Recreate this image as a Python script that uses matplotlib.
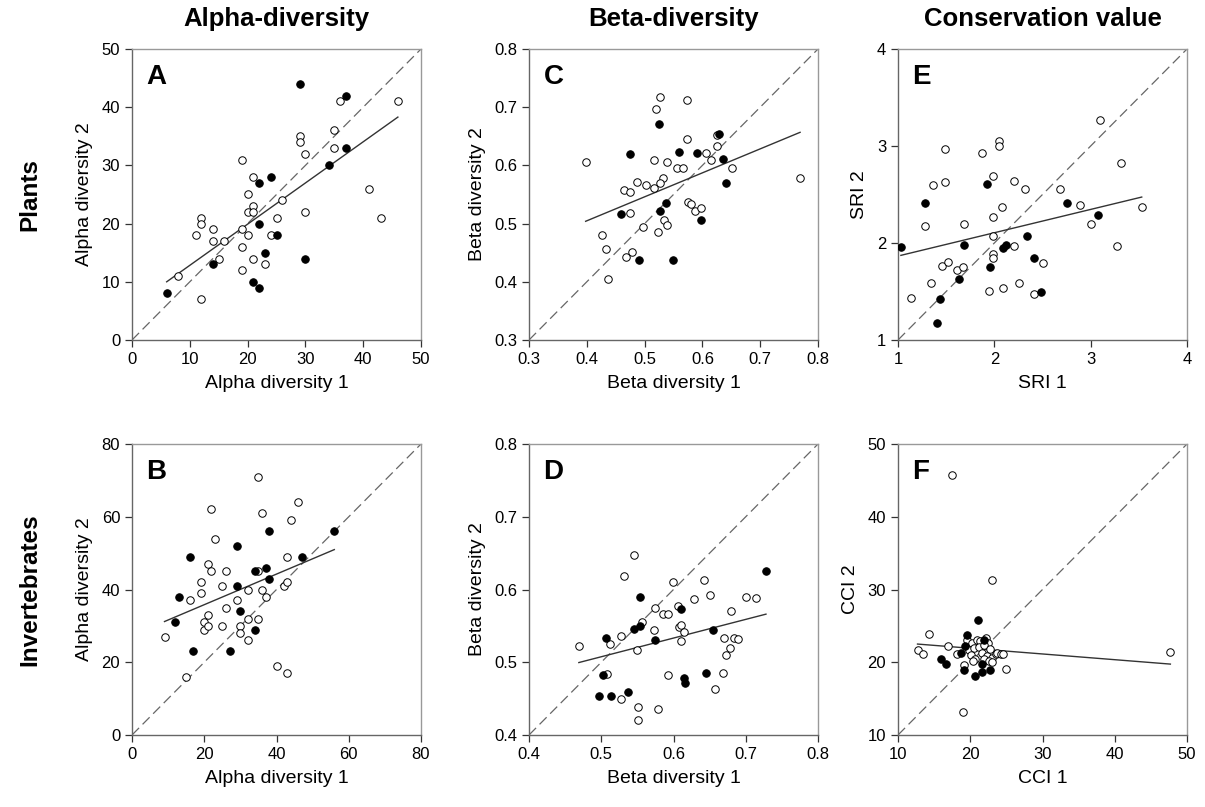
""" Alpha/beta diversity and conservation value: method 1 vs method 2 """

import numpy as np
import matplotlib
matplotlib.use('Agg')
import matplotlib.pyplot as plt

plt.rcParams['font.family'] = ['Liberation Sans', 'DejaVu Sans']

# ---- Panel A: plants alpha diversity
a_open_x = [46, 36, 35, 35, 29, 29, 30, 19, 21, 41, 20, 26, 21, 20, 21, 30, 43, 25, 12,
            12, 19, 14, 11, 20, 24, 14, 16, 19, 15, 21, 23, 19, 8, 12]
a_open_y = [41, 41, 36, 33, 35, 34, 32, 31, 28, 26, 25, 24, 23, 22, 22, 22, 21, 21, 21,
            20, 19, 19, 18, 18, 18, 17, 17, 16, 14, 14, 13, 12, 11, 7]
a_fill_x = [6, 29, 37, 37, 34, 22, 24, 22, 25, 23, 30, 14, 21, 22]
a_fill_y = [8, 44, 42, 33, 30, 27, 28, 20, 18, 15, 14, 13, 10, 9]
a_fit = (0.7075, 5.755)

# ---- Panel B: invertebrates alpha diversity
b_open_x = [9, 15, 16, 19, 19, 20, 20, 21, 21, 21, 22, 22, 23, 25, 25, 26, 26, 29, 30,
            30, 32, 32, 32, 35, 35, 35, 36, 36, 37, 40, 42, 43, 43, 43, 44, 46]
b_open_y = [27, 16, 37, 42, 39, 31, 29, 33, 30, 47, 45, 62, 54, 41, 30, 45, 35, 37, 30,
            28, 40, 32, 26, 45, 32, 71, 40, 61, 38, 19, 41, 42, 49, 17, 59, 64]
b_fill_x = [12, 13, 16, 17, 27, 29, 29, 30, 34, 34, 37, 38, 38, 47, 56]
b_fill_y = [31, 38, 49, 23, 23, 52, 41, 34, 45, 29, 46, 56, 43, 49, 56]
b_fit = (0.4207, 27.41)

# ---- Panel C: plants beta diversity
c_open_x = [0.398, 0.527, 0.520, 0.574, 0.574, 0.625, 0.625, 0.607, 0.615, 0.651,
            0.517, 0.539, 0.556, 0.566, 0.532, 0.526, 0.516, 0.503, 0.487, 0.465,
            0.474, 0.474, 0.575, 0.581, 0.588, 0.597, 0.533, 0.539, 0.497, 0.524,
            0.426, 0.434, 0.479, 0.467, 0.436, 0.769]
c_open_y = [0.605, 0.718, 0.697, 0.713, 0.646, 0.653, 0.634, 0.622, 0.610, 0.596,
            0.609, 0.605, 0.595, 0.595, 0.579, 0.569, 0.562, 0.567, 0.571, 0.558,
            0.555, 0.518, 0.537, 0.533, 0.522, 0.527, 0.507, 0.497, 0.495, 0.486,
            0.481, 0.457, 0.452, 0.443, 0.405, 0.578]
c_fill_x = [0.474, 0.525, 0.559, 0.590, 0.628, 0.636, 0.640, 0.459, 0.527, 0.537,
            0.597, 0.491, 0.549]
c_fill_y = [0.619, 0.671, 0.623, 0.622, 0.654, 0.611, 0.570, 0.517, 0.522, 0.536,
            0.507, 0.437, 0.437]
c_fit = (0.412, 0.340)

# ---- Panel D: invertebrates beta diversity
d_open_x = [0.469, 0.508, 0.512, 0.527, 0.527, 0.531, 0.546, 0.550, 0.551, 0.551,
            0.557, 0.573, 0.574, 0.579, 0.586, 0.592, 0.593, 0.599, 0.606, 0.608,
            0.611, 0.611, 0.614, 0.629, 0.642, 0.651, 0.658, 0.669, 0.670, 0.673,
            0.678, 0.680, 0.684, 0.689, 0.701, 0.714]
d_open_y = [0.522, 0.484, 0.525, 0.450, 0.536, 0.618, 0.648, 0.517, 0.439, 0.420,
            0.555, 0.544, 0.575, 0.436, 0.567, 0.567, 0.483, 0.610, 0.578, 0.548,
            0.551, 0.529, 0.542, 0.587, 0.613, 0.592, 0.463, 0.485, 0.534, 0.510,
            0.520, 0.570, 0.533, 0.532, 0.590, 0.588]
d_fill_x = [0.497, 0.514, 0.537, 0.502, 0.507, 0.545, 0.554, 0.554, 0.575, 0.610,
            0.615, 0.616, 0.645, 0.654, 0.728]
d_fill_y = [0.454, 0.453, 0.459, 0.482, 0.533, 0.546, 0.550, 0.590, 0.530, 0.573,
            0.479, 0.472, 0.485, 0.544, 0.626]
d_fit = (0.2569, 0.3791)

# ---- Panel E: plants SRI
e_open_x = [1.13, 1.28, 1.34, 1.36, 1.49, 1.49, 1.46, 1.52, 1.61, 1.67, 1.68, 1.87,
            1.94, 1.99, 1.99, 1.99, 1.99, 1.99, 2.05, 2.05, 2.08, 2.09, 2.20, 2.20,
            2.26, 2.32, 2.41, 2.50, 2.68, 2.89, 3.00, 3.10, 3.32, 3.27, 3.53]
e_open_y = [1.43, 2.18, 1.59, 2.60, 2.97, 2.63, 1.76, 1.80, 1.72, 1.75, 2.20, 2.93,
            1.51, 2.69, 2.27, 2.07, 1.89, 1.85, 3.05, 3.00, 2.37, 1.54, 2.64, 1.97,
            1.59, 2.56, 1.47, 1.79, 2.56, 2.39, 2.20, 3.27, 2.82, 1.97, 2.37]
e_fill_x = [1.03, 1.28, 1.68, 1.63, 1.44, 1.40, 1.92, 1.96, 2.09, 2.12, 2.34, 2.41,
            2.48, 2.75, 3.08]
e_fill_y = [1.96, 2.41, 1.98, 1.63, 1.42, 1.18, 2.61, 1.75, 1.95, 1.98, 2.07, 1.85,
            1.49, 2.41, 2.29]
e_fit = (0.2404, 1.625)

# ---- Panel F: invertebrates CCI
f_open_x = [17.5, 23.0, 14.3, 12.7, 13.5, 16.9, 18.2, 19.0, 19.2, 25.0, 19.5, 20.2,
            20.9, 21.3, 22.2, 22.5, 19.8, 20.5, 21.2, 21.9, 20.1, 20.7, 21.6, 22.3,
            23.0, 23.5, 23.7, 24.2, 24.5, 21.9, 22.6, 23.0, 20.4, 22.8, 47.7]
f_open_y = [45.7, 31.3, 23.9, 21.7, 21.1, 22.3, 21.1, 13.2, 19.6, 19.1, 23.0, 22.6,
            23.0, 22.9, 23.3, 22.7, 21.7, 21.9, 22.1, 22.4, 21.0, 20.4, 21.3, 20.8,
            20.6, 21.1, 21.3, 21.1, 21.2, 20.4, 20.2, 20.0, 20.2, 21.8, 21.4]
f_fill_x = [16.0, 16.6, 19.6, 21.1, 19.3, 18.7, 19.2, 20.6, 21.6, 22.7, 21.6, 21.9]
f_fill_y = [20.4, 19.8, 23.7, 25.8, 22.3, 21.3, 19.0, 18.1, 18.6, 19.0, 19.8, 23.0]
f_fit = (-0.0787, 23.50)

col_titles = ['Alpha-diversity', 'Beta-diversity', 'Conservation value']
row_titles = ['Plants', 'Invertebrates']


def panel(ax, letter, ox, oy, fx, fy, fit, lim, ticks, xlabel, ylabel, ticklabels=None):
    """ Draws one scatter panel with 1:1 line and regression line """
    ax.plot(lim, lim, color='#666666', lw=0.9, dashes=(8, 4), zorder=1)
    allx = np.array(list(ox) + list(fx))
    xs = np.array([allx.min(), allx.max()])
    ax.plot(xs, fit[0]*xs + fit[1], color='#333333', lw=1.0, zorder=2)
    ax.plot(ox, oy, 'o', ms=5.4, mfc='white', mec='black', mew=0.7, zorder=3)
    ax.plot(fx, fy, 'o', ms=5.4, mfc='black', mec='black', mew=0.7, zorder=4)
    ax.set_xlim(lim)
    ax.set_ylim(lim)
    ax.set_xticks(ticks)
    ax.set_yticks(ticks)
    if ticklabels is not None:
        ax.set_xticklabels(ticklabels)
        ax.set_yticklabels(ticklabels)
    ax.set_xlabel(xlabel, fontsize=14, labelpad=6)
    ax.set_ylabel(ylabel, fontsize=14, labelpad=6)
    ax.tick_params(direction='out', length=5, width=0.9, labelsize=12,
                   colors='#333333', labelcolor='black', top=False, right=False)
    for s in ['left', 'bottom']:
        ax.spines[s].set_color('#666666')
        ax.spines[s].set_linewidth(1.0)
    for s in ['top', 'right']:
        ax.spines[s].set_color('#999999')
        ax.spines[s].set_linewidth(1.0)
    ax.text(0.05, 0.95, letter, transform=ax.transAxes, fontsize=20,
            fontweight='bold', va='top', ha='left')


fig = plt.figure(figsize=(12.05, 8.07), dpi=100)
lefts = [132/1205, 529/1205, 898/1205]
bottoms = [1 - 340/807, 1 - 735/807]
w = 289/1205
h = 291/807
axs = [[fig.add_axes([l, b, w, h]) for l in lefts] for b in bottoms]

panel(axs[0][0], 'A', a_open_x, a_open_y, a_fill_x, a_fill_y, a_fit,
      [0, 50], [0, 10, 20, 30, 40, 50], 'Alpha diversity 1', 'Alpha diversity 2')
panel(axs[1][0], 'B', b_open_x, b_open_y, b_fill_x, b_fill_y, b_fit,
      [0, 80], [0, 20, 40, 60, 80], 'Alpha diversity 1', 'Alpha diversity 2')
panel(axs[0][1], 'C', c_open_x, c_open_y, c_fill_x, c_fill_y, c_fit,
      [0.3, 0.8], [0.3, 0.4, 0.5, 0.6, 0.7, 0.8], 'Beta diversity 1', 'Beta diversity 2',
      ['0.3', '0.4', '0.5', '0.6', '0.7', '0.8'])
panel(axs[1][1], 'D', d_open_x, d_open_y, d_fill_x, d_fill_y, d_fit,
      [0.4, 0.8], [0.4, 0.5, 0.6, 0.7, 0.8], 'Beta diversity 1', 'Beta diversity 2',
      ['0.4', '0.5', '0.6', '0.7', '0.8'])
panel(axs[0][2], 'E', e_open_x, e_open_y, e_fill_x, e_fill_y, e_fit,
      [1, 4], [1, 2, 3, 4], 'SRI 1', 'SRI 2')
panel(axs[1][2], 'F', f_open_x, f_open_y, f_fill_x, f_fill_y, f_fit,
      [10, 50], [10, 20, 30, 40, 50], 'CCI 1', 'CCI 2')

# column and row headings
for i, t in enumerate(col_titles):
    fig.text(lefts[i] + w/2, 1 - 19/807, t, fontsize=18.5, fontweight='bold',
             ha='center', va='center')
for j, t in enumerate(row_titles):
    fig.text(30/1205, bottoms[j] + h/2, t, fontsize=17.5, fontweight='bold',
             rotation=90, ha='center', va='center')

fig.savefig('out.png', dpi=100)
